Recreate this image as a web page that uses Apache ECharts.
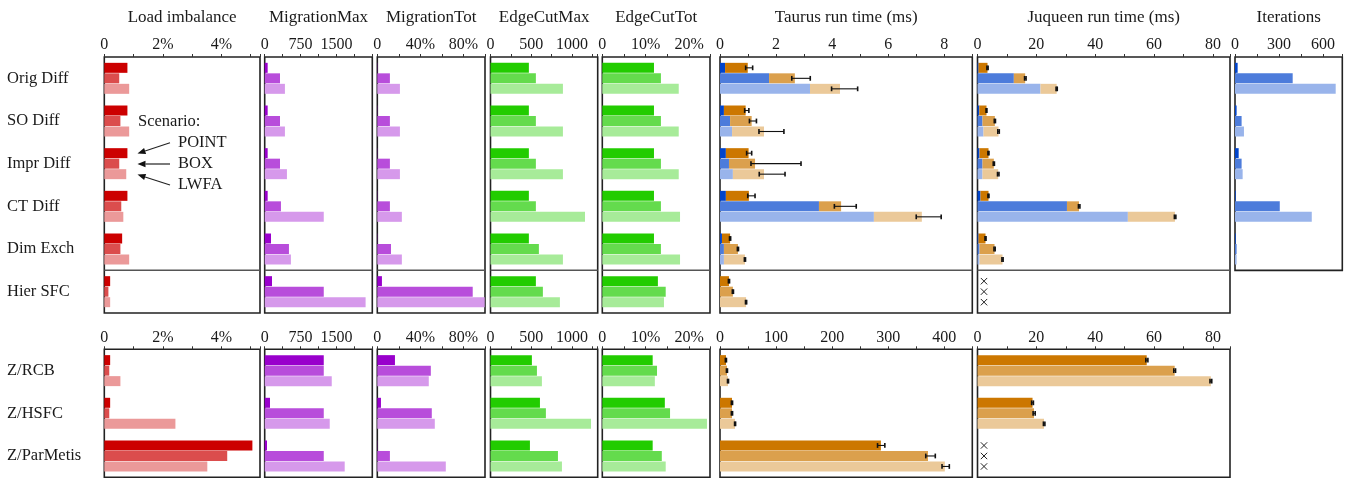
<!DOCTYPE html>
<html><head><meta charset="utf-8">
<script src="https://cdn.jsdelivr.net/npm/echarts@6/dist/echarts.min.js"></script>
<style>html,body{margin:0;padding:0;background:#fff}#c{width:1351px;height:481px}</style>
</head><body><div id="c"></div><script>
// ---------------- DATA ----------------
const categoriesTop = ['Orig Diff','SO Diff','Impr Diff','CT Diff','Dim Exch','Hier SFC'];
const categoriesBottom = ['Z/RCB','Z/HSFC','Z/ParMetis'];
const scenarios = ['POINT','BOX','LWFA'];
const panelTitles = ['Load imbalance','MigrationMax','MigrationTot','EdgeCutMax','EdgeCutTot','Taurus run time (ms)','Juqueen run time (ms)','Iterations'];
const axisMaxTop = [5.32, 2250, 100, 1316, 24.8, 9, 85.8, 731];
const axisStepTop = [2, 750, 40, 500, 10, 2, 20, 300];
const axisMaxBottom = [5.32, 2250, 100, 1316, 24.8, 450, 85.8];
const axisStepBottom = [2, 750, 40, 500, 10, 100, 20];
const percentAxis = [true, false, true, false, true, false, false, false];

// values: 6 top categories, then 3 bottom categories
const loadImbPOINT = [0.79, 0.79, 0.79, 0.79, 0.61, 0.20, 0.20, 0.20, 5.06];
const loadImbBOX   = [0.51, 0.55, 0.51, 0.58, 0.55, 0.14, 0.17, 0.17, 4.20];
const loadImbLWFA  = [0.85, 0.85, 0.75, 0.65, 0.85, 0.20, 0.55, 2.43, 3.52];

const migMaxPOINT = [62, 62, 62, 62, 132, 153, 1235, 111, 48];
const migMaxBOX   = [320, 320, 320, 340, 507, 1235, 1235, 1235, 1235];
const migMaxLWFA  = [423, 423, 465, 1235, 548, 2110, 1402, 1360, 1673];

const migTotPOINT = [0.2, 0.2, 0.2, 0.2, 0.2, 4.3, 16.4, 3.4, 0.2];
const migTotBOX   = [11.7, 11.7, 11.7, 11.7, 12.7, 88.6, 49.7, 50.6, 11.7];
const migTotLWFA  = [21.0, 21.0, 21.0, 22.8, 22.8, 99.7, 47.8, 53.4, 63.6];

const edgeMaxPOINT = [471, 471, 471, 471, 471, 557, 508, 607, 484];
const edgeMaxBOX   = [557, 557, 557, 557, 594, 643, 570, 680, 828];
const edgeMaxLWFA  = [889, 889, 889, 1160, 889, 852, 631, 1234, 877];

const edgeTotPOINT = [11.9, 11.9, 11.9, 11.9, 11.9, 12.8, 11.6, 14.4, 11.6];
const edgeTotBOX   = [13.5, 13.5, 13.5, 13.5, 13.5, 14.6, 12.6, 15.6, 13.7];
const edgeTotLWFA  = [17.6, 17.6, 17.6, 17.9, 17.9, 14.2, 12.1, 24.1, 14.6];

// Taurus run time (ms): blue part end, total end, error low/high
const taurusBluePOINT = [0.18, 0.14, 0.21, 0.21, 0.07, 0, 0, 0, 0];
const taurusBlueBOX   = [1.75, 0.36, 0.32, 3.53, 0.14, 0, 0, 0, 0];
const taurusBlueLWFA  = [3.21, 0.43, 0.46, 5.49, 0.14, 0, 0, 0, 0];
const taurusTotalPOINT = [0.99, 0.915, 1.02, 1.03, 0.36, 0.32, 10.7, 21.4, 287];
const taurusTotalBOX   = [2.67, 1.13, 1.25, 4.32, 0.64, 0.46, 12.5, 21.4, 371];
const taurusTotalLWFA  = [4.28, 1.57, 1.57, 7.20, 0.89, 0.93, 14.3, 26.8, 401];
const taurusLoPOINT = [0.915, 0.88, 0.95, 0.99, 0.34, 0.30, 9.6, 20.3, 281];
const taurusHiPOINT = [1.165, 1.03, 1.13, 1.25, 0.38, 0.34, 11.5, 22.4, 294];
const taurusLoBOX   = [2.56, 1.05, 1.105, 4.08, 0.62, 0.44, 11.5, 20.3, 367];
const taurusHiBOX   = [3.22, 1.30, 2.89, 4.86, 0.66, 0.48, 13.3, 22.4, 384];
const taurusLoLWFA  = [3.98, 1.39, 1.40, 7.00, 0.87, 0.91, 13.4, 26.0, 396];
const taurusHiLWFA  = [4.91, 2.28, 2.32, 7.89, 0.91, 0.95, 15.2, 27.8, 409];

// Juqueen run time (ms); null = not available (drawn as a cross)
const juqBluePOINT = [0.34, 0.6, 0.68, 1.02, 0.34, null, 0, 0, null];
const juqBlueBOX   = [12.35, 1.7, 1.7, 30.4, 0.68, null, 0, 0, null];
const juqBlueLWFA  = [21.4, 2.04, 1.7, 51.1, 0.68, null, 0, 0, null];
const juqTotalPOINT = [3.4, 3.06, 3.74, 3.74, 2.72, null, 57.5, 18.7, null];
const juqTotalBOX   = [16.2, 5.9, 5.55, 34.5, 5.78, null, 67.0, 19.2, null];
const juqTotalLWFA  = [26.9, 7.14, 7.03, 67.1, 8.5, null, 79.3, 22.6, null];
const juqLoPOINT = [3.2, 2.9, 3.55, 3.55, 2.55, null, 57.2, 18.4, null];
const juqHiPOINT = [3.6, 3.2, 3.9, 3.9, 2.9, null, 57.9, 19.0, null];
const juqLoBOX   = [16.0, 5.7, 5.35, 34.3, 5.6, null, 66.7, 18.9, null];
const juqHiBOX   = [16.5, 6.1, 5.75, 34.8, 6.0, null, 67.3, 19.6, null];
const juqLoLWFA  = [26.7, 6.9, 6.8, 66.9, 8.3, null, 79.0, 22.4, null];
const juqHiLWFA  = [27.1, 7.4, 7.3, 67.4, 8.7, null, 79.6, 22.9, null];

// Iterations (top group, first 5 categories)
const iterPOINT = [18, 11, 25, 5, 5];
const iterBOX   = [393, 45, 45, 305, 11];
const iterLWFA  = [686, 61, 52, 523, 11];

// ---------------- STYLE / LAYOUT ----------------
const FONT = 'Liberation Serif';
const TXT = '#1a1a1a';
const panelX = [[104.3,260],[264.7,372.3],[377.3,485],[490.5,597.7],[602.3,710],[720,972.3],[977.5,1230],[1235,1342.3]];
const TOP_Y = 57, TOP_H = 256, BOT_Y = 349.3, BOT_H = 128;
const BAR_W = 10, BAR_PITCH = 10.5;
const redC = ['#cc0000','#db4d4d','#eb9999'];
const violetC = ['#9900cc','#b84ddb','#d699eb'];
const greenC = ['#22cc00','#64db4d','#a7eb99'];
const blueC = ['#0044cc','#4d7cdb','#99b4eb'];
const orangeC = ['#cc7700','#dba04d','#ebc999'];

const option = {animation:false, grid:[], xAxis:[], yAxis:[], series:[], graphic:[]};

function addGrid(p, group){
  const [x0,x1] = panelX[p];
  const bandH = group===0 ? TOP_H/6 : BOT_H/3;
  const nCat = group===0 ? (p===7 ? 5 : 6) : 3;
  const top = group===0 ? TOP_Y : BOT_Y;
  const gi = option.grid.length;
  option.grid.push({left:x0, top:top, width:x1-x0, height:nCat*bandH, show:true,
    borderColor:'#222', borderWidth:1.6, backgroundColor:'rgba(0,0,0,0)', outerBoundsMode:'none', containLabel:false});
  const max = group===0 ? axisMaxTop[p] : axisMaxBottom[p];
  const step = group===0 ? axisStepTop[p] : axisStepBottom[p];
  option.xAxis.push({type:'value', gridIndex:gi, position:'top', min:0, max:max, interval:step,
    name: group===0 ? panelTitles[p] : '', nameLocation:'middle', nameGap:31,
    nameTextStyle:{fontFamily:FONT, fontSize:17, color:TXT},
    axisLine:{show:false},
    axisTick:{show:true, inside:false, length:3, lineStyle:{color:'#333', width:1}},
    minorTick:{show:true, splitNumber:2, length:3, lineStyle:{color:'#333', width:1}},
    splitLine:{show:false}, minorSplitLine:{show:false},
    axisLabel:{show:true, margin:4, showMaxLabel:false, fontFamily:FONT, fontSize:16, color:TXT,
      formatter: v => (percentAxis[p] && v !== 0) ? v + '%' : String(v)}
  });
  const cats = group===0 ? categoriesTop.slice(0,nCat) : categoriesBottom;
  option.yAxis.push({type:'category', gridIndex:gi, inverse:true, data:cats,
    axisLine:{show:false}, axisTick:{show:false}, splitLine:{show:false},
    axisLabel:{show:p===0, align:'left', margin:x0-7, fontFamily:FONT, fontSize:16.5, color:TXT}});
  return gi;
}

function sliceFor(arr, group, n){ return group===0 ? arr.slice(0, n) : arr.slice(6, 9); }

function simpleBars(gi, arrs, colors, group, n){
  arrs.forEach((a, s) => {
    option.series.push({type:'bar', name:scenarios[s], xAxisIndex:gi, yAxisIndex:gi, silent:true,
      data:sliceFor(a, group, n), barWidth:BAR_W, barGap:'5%', itemStyle:{color:colors[s]}});
  });
}

function stackedBars(gi, blues, totals, group){
  blues.forEach((b, s) => {
    const bl = sliceFor(b, group, 6), tot = sliceFor(totals[s], group, 6);
    const stackName = 'g' + gi + '_' + scenarios[s];
    option.series.push({type:'bar', xAxisIndex:gi, yAxisIndex:gi, silent:true, stack:stackName,
      data:bl, barWidth:BAR_W, barGap:'5%', itemStyle:{color:blueC[s]}});
    option.series.push({type:'bar', xAxisIndex:gi, yAxisIndex:gi, silent:true, stack:stackName,
      data:tot.map((t,i) => t==null ? null : t - bl[i]), barWidth:BAR_W, barGap:'5%', itemStyle:{color:orangeC[s]}});
  });
}

function errRender(params, api){
  const cat = api.value(0), lo = api.value(1), hi = api.value(2), s = api.value(3);
  const c = api.coord([0, cat]);
  const y = c[1] + (s-1)*BAR_PITCH;
  const xa = api.coord([lo, cat])[0], xb = api.coord([hi, cat])[0];
  const h = 2.4, st = {stroke:'#111', lineWidth:1.1};
  return {type:'group', children:[
    {type:'line', shape:{x1:xa, y1:y, x2:xb, y2:y}, style:st},
    {type:'line', shape:{x1:xa, y1:y-h, x2:xa, y2:y+h}, style:{stroke:'#111', lineWidth:1.6}},
    {type:'line', shape:{x1:xb, y1:y-h, x2:xb, y2:y+h}, style:{stroke:'#111', lineWidth:1.6}}
  ]};
}
function errorBars(gi, los, his, group){
  const items = [];
  los.forEach((lo, s) => {
    const l = sliceFor(lo, group, 6), h = sliceFor(his[s], group, 6);
    l.forEach((v, i) => { if (v != null) items.push([i, v, h[i], s]); });
  });
  option.series.push({type:'custom', xAxisIndex:gi, yAxisIndex:gi, silent:true, z:5,
    renderItem:errRender, encode:{x:[1,2], y:0}, data:items});
}
function crossRender(params, api){
  const cat = api.value(0), s = api.value(1);
  const c = api.coord([0, cat]);
  const x = c[0] + 6.5, y = c[1] + (s-1)*BAR_PITCH, r = 3.2;
  const st = {stroke:'#222', lineWidth:1};
  return {type:'group', children:[
    {type:'line', shape:{x1:x-r, y1:y-r, x2:x+r, y2:y+r}, style:st},
    {type:'line', shape:{x1:x-r, y1:y+r, x2:x+r, y2:y-r}, style:st}
  ]};
}
function crosses(gi, totals, group){
  const items = [];
  totals.forEach((t, s) => { sliceFor(t, group, 6).forEach((v, i) => { if (v == null) items.push([i, s]); }); });
  if (items.length) option.series.push({type:'custom', xAxisIndex:gi, yAxisIndex:gi, silent:true, z:5,
    renderItem:crossRender, encode:{x:-1, y:0}, data:items});
}

const metricArrays = [
  [[loadImbPOINT, loadImbBOX, loadImbLWFA], redC],
  [[migMaxPOINT, migMaxBOX, migMaxLWFA], violetC],
  [[migTotPOINT, migTotBOX, migTotLWFA], violetC],
  [[edgeMaxPOINT, edgeMaxBOX, edgeMaxLWFA], greenC],
  [[edgeTotPOINT, edgeTotBOX, edgeTotLWFA], greenC]
];

[0,1].forEach(group => {
  const nPanels = group===0 ? 8 : 7;
  for (let p = 0; p < nPanels; p++){
    const gi = addGrid(p, group);
    if (p < 5) simpleBars(gi, metricArrays[p][0], metricArrays[p][1], group, 6);
    else if (p === 5){
      stackedBars(gi, [taurusBluePOINT, taurusBlueBOX, taurusBlueLWFA], [taurusTotalPOINT, taurusTotalBOX, taurusTotalLWFA], group);
      errorBars(gi, [taurusLoPOINT, taurusLoBOX, taurusLoLWFA], [taurusHiPOINT, taurusHiBOX, taurusHiLWFA], group);
    } else if (p === 6){
      stackedBars(gi, [juqBluePOINT, juqBlueBOX, juqBlueLWFA], [juqTotalPOINT, juqTotalBOX, juqTotalLWFA], group);
      errorBars(gi, [juqLoPOINT, juqLoBOX, juqLoLWFA], [juqHiPOINT, juqHiBOX, juqHiLWFA], group);
      crosses(gi, [juqTotalPOINT, juqTotalBOX, juqTotalLWFA], group);
    } else {
      simpleBars(gi, [iterPOINT, iterBOX, iterLWFA], blueC, group, 5);
    }
  }
});

// separator between the diffusion methods and Hier SFC
const sepY = TOP_Y + 5*TOP_H/6;
for (let p = 0; p < 7; p++){
  option.graphic.push({type:'line', shape:{x1:panelX[p][0], y1:sepY, x2:panelX[p][1], y2:sepY},
    style:{stroke:'#555', lineWidth:1.5}, z:10});
}
// scenario annotation
const annoFont = {fontFamily:FONT, fontSize:16.5, fill:TXT};
function txt(x, y, t){ option.graphic.push({type:'text', x:x, y:y, style:Object.assign({text:t, verticalAlign:'middle', align:'left'}, annoFont), z:10}); }
function arrow(x1, y1, x2, y2){
  const dx = x2-x1, dy = y2-y1, L = Math.hypot(dx,dy), ux = dx/L, uy = dy/L;
  const hl = 8, hw = 3.2;
  const bx = x2 - ux*hl, by = y2 - uy*hl;
  option.graphic.push({type:'line', shape:{x1:x1, y1:y1, x2:bx, y2:by}, style:{stroke:'#222', lineWidth:1.2}, z:10});
  option.graphic.push({type:'polygon', shape:{points:[[x2,y2],[bx - uy*hw, by + ux*hw],[bx + uy*hw, by - ux*hw]]}, style:{fill:'#111'}, z:10});
}
txt(138, 121.7, 'Scenario:');
txt(178, 142.7, scenarios[0]);
txt(178, 164, scenarios[1]);
txt(178, 185, scenarios[2]);
arrow(170, 142.7, 137.5, 153.5);
arrow(170, 164, 137.5, 164);
arrow(170, 185, 137.5, 174.5);

const chart = echarts.init(document.getElementById('c'), null, {renderer:'canvas'});
chart.setOption(option);
</script></body></html>
